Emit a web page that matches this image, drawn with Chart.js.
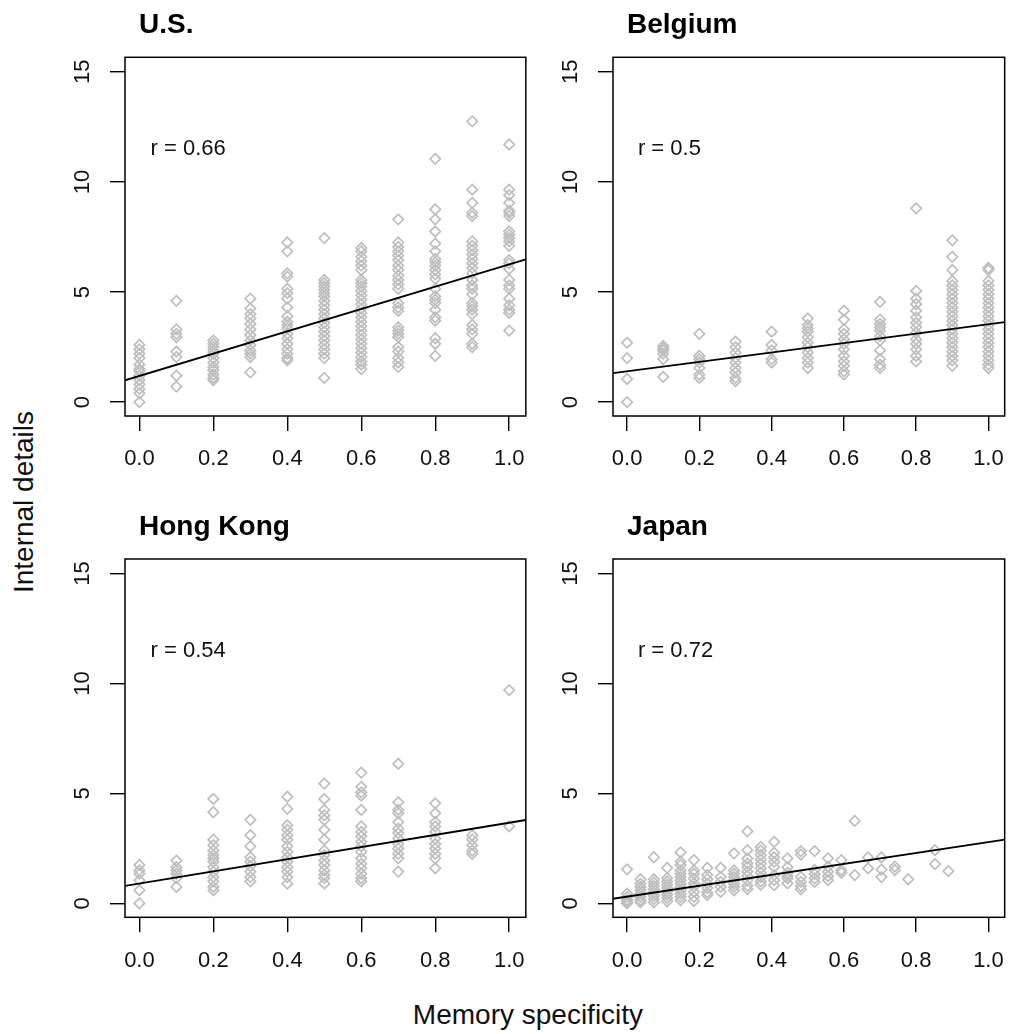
<!DOCTYPE html>
<html>
<head>
<meta charset="utf-8">
<script src="https://cdn.jsdelivr.net/npm/chart.js@4.4.1/dist/chart.umd.min.js"></script>
<style>
  body { margin: 0; background: #fff; width: 1019px; height: 1034px; position: relative; overflow: hidden; }
  canvas { position: absolute; }
  .axis-label { position: absolute; font: 28px "Liberation Sans", Arial, sans-serif; color: #111; line-height: 28px; height: 28px; text-align: center; white-space: nowrap; }
  #ylab { left: -176px; top: 488px; width: 400px; transform: rotate(-90deg); }
  #xlab { left: 228px; top: 1001px; width: 600px; }
</style>
</head>
<body>
<canvas id="us" width="500" height="490" style="left:40px;top:0px"></canvas>
<canvas id="be" width="491" height="490" style="left:528px;top:0px"></canvas>
<canvas id="hk" width="500" height="490" style="left:40px;top:500px"></canvas>
<canvas id="jp" width="491" height="490" style="left:528px;top:500px"></canvas>
<div class="axis-label" id="ylab">Internal details</div>
<div class="axis-label" id="xlab">Memory specificity</div>

<script>
const xTicks = [0, 0.2, 0.4, 0.6, 0.8, 1.0]
const yTicks = [0, 5, 10, 15]
const xRange = [-0.039, 1.045]
const yRange = [-0.63, 15.66]

const tenths = [0, 0.1, 0.2, 0.3, 0.4, 0.5, 0.6, 0.7, 0.8, 0.9, 1.0]

/** U.S. */
const usVals = [
    [2.6, 2.4, 2.2, 2.0, 1.7, 1.5, 1.4, 1.2, 1.0, 0.8, 0.6, 0.4, 0.0],
    [4.6, 3.3, 3.1, 2.95, 2.3, 2.05, 1.2, 0.7],
    [2.8, 2.65, 2.5, 2.35, 2.2, 2.0, 1.8, 1.6, 1.45, 1.25, 1.1, 1.0],
    [4.7, 4.25, 4.0, 3.8, 3.55, 3.3, 3.05, 2.8, 2.6, 2.35, 2.2, 2.05, 1.35],
    [7.25, 6.85, 5.85, 5.7, 5.15, 4.95, 4.7, 4.3, 3.9, 3.65, 3.5, 3.35, 3.1, 2.9, 2.65, 2.4, 2.2, 2.0, 1.9],
    [7.45, 5.55, 5.4, 5.25, 5.1, 4.95, 4.8, 4.6, 4.4, 4.2, 4.0, 3.8, 3.6, 3.4, 3.2, 3.0, 2.8, 2.6, 2.4, 2.2, 2.0, 1.1],
    [7.0, 6.85, 6.6, 6.4, 6.2, 6.0, 5.55, 5.4, 5.25, 5.05, 4.85, 4.65, 4.45, 4.25, 4.05, 3.85, 3.65, 3.45, 3.25, 3.05, 2.85, 2.65, 2.45, 2.25, 2.05, 1.85, 1.7, 1.5],
    [8.3, 7.25, 7.05, 6.85, 6.65, 6.45, 6.2, 6.0, 5.75, 5.55, 5.35, 5.15, 4.5, 4.3, 4.15, 3.4, 3.25, 3.1, 2.95, 2.5, 2.3, 2.0, 1.8, 1.6],
    [11.05, 8.75, 8.3, 7.75, 7.2, 6.85, 6.5, 6.35, 6.2, 6.0, 5.8, 5.6, 5.15, 4.8, 4.65, 4.5, 4.2, 3.85, 3.7, 2.9, 2.65, 2.1],
    [12.75, 9.65, 9.05, 8.6, 8.45, 7.3, 7.1, 6.9, 6.7, 6.5, 6.3, 6.1, 5.85, 5.55, 5.3, 5.15, 4.9, 4.5, 4.35, 4.2, 4.0, 3.5, 3.3, 3.1, 2.65, 2.5],
    [11.7, 9.65, 9.4, 9.05, 8.7, 8.6, 8.45, 7.75, 7.6, 7.45, 7.3, 7.1, 6.45, 6.3, 6.05, 5.55, 5.3, 5.15, 4.7, 4.4, 4.2, 4.05, 3.25]
]

/** Belgium */
const beVals = [
    [2.7, 2.0, 1.05, 0.0],
    [2.55, 2.45, 2.35, 2.2, 1.95, 1.15],
    [3.1, 2.1, 1.95, 1.8, 1.55, 1.25, 1.1],
    [2.75, 2.5, 2.25, 2.0, 1.8, 1.55, 1.35, 1.1, 0.95],
    [3.2, 2.6, 2.35, 1.95, 1.8],
    [3.8, 3.5, 3.35, 3.2, 2.95, 2.7, 2.5, 2.25, 2.0, 1.8, 1.55],
    [4.15, 3.75, 3.3, 3.1, 2.85, 2.65, 2.4, 2.1, 1.85, 1.65, 1.4, 1.25],
    [4.55, 3.75, 3.55, 3.4, 3.25, 3.0, 2.8, 2.35, 1.95, 1.7, 1.55],
    [8.8, 5.05, 4.7, 4.45, 4.15, 3.85, 3.6, 3.4, 3.15, 2.85, 2.65, 2.4, 2.1, 1.85],
    [7.35, 6.6, 6.0, 5.5, 5.3, 5.1, 4.9, 4.7, 4.5, 4.3, 4.1, 3.9, 3.7, 3.5, 3.3, 3.1, 2.9, 2.7, 2.5, 2.3, 2.1, 1.9, 1.65],
    [6.1, 6.0, 5.5, 5.3, 5.1, 4.9, 4.7, 4.5, 4.3, 4.1, 3.9, 3.7, 3.5, 3.3, 3.1, 2.9, 2.7, 2.5, 2.3, 2.1, 1.9, 1.7, 1.55]
]

/** Hong Kong */
const hkVals = [
    [1.75, 1.5, 1.35, 1.05, 0.6, 0.0],
    [1.95, 1.65, 1.5, 1.35, 1.15, 0.75],
    [4.75, 4.15, 2.9, 2.65, 2.4, 2.2, 2.05, 1.9, 1.65, 1.45, 1.2, 1.0, 0.75, 0.6],
    [3.8, 3.1, 2.6, 2.1, 1.9, 1.7, 1.45, 1.2, 1.0],
    [4.85, 4.3, 3.55, 3.35, 3.1, 2.9, 2.6, 2.35, 2.1, 1.9, 1.65, 1.45, 1.2, 0.9],
    [5.45, 4.75, 4.25, 4.0, 3.8, 3.35, 2.9, 2.4, 2.2, 1.95, 1.75, 1.5, 1.3, 1.15, 0.9],
    [5.95, 5.3, 5.05, 4.9, 4.25, 3.5, 3.25, 3.05, 2.8, 2.6, 2.35, 2.05, 1.8, 1.6, 1.35, 1.15, 1.0],
    [6.35, 4.6, 4.25, 4.1, 3.7, 3.4, 3.2, 2.95, 2.7, 2.5, 2.25, 2.05, 1.45],
    [4.55, 4.1, 3.7, 3.5, 3.25, 2.95, 2.7, 2.5, 2.25, 2.05, 1.6],
    [3.1, 2.9, 2.65, 2.4, 2.25],
    [9.7, 3.5]
]

/** Japan (finer x steps) */
const jpCols = [0, 0.037, 0.074, 0.111, 0.148, 0.185, 0.222, 0.259, 0.296, 0.333, 0.37, 0.407,
    0.444, 0.481, 0.519, 0.556, 0.593, 0.63, 0.667, 0.704, 0.741, 0.778, 0.852, 0.889]
const jpVals = [
    [1.55, 0.45, 0.3, 0.15, 0.05, 0.0],
    [1.1, 0.9, 0.75, 0.6, 0.45, 0.3, 0.15, 0.05],
    [2.1, 1.1, 0.95, 0.8, 0.65, 0.5, 0.35, 0.2, 0.05],
    [1.62, 1.15, 1.0, 0.85, 0.7, 0.55, 0.4, 0.25, 0.1],
    [2.32, 1.9, 1.75, 1.5, 1.35, 1.2, 1.05, 0.9, 0.75, 0.6, 0.45, 0.3, 0.15],
    [1.97, 1.5, 1.35, 1.13, 0.91, 0.76, 0.53, 0.3, 0.11],
    [1.62, 1.29, 1.1, 0.9, 0.7, 0.5, 0.38],
    [1.62, 1.2, 0.98, 0.76, 0.53],
    [2.28, 1.5, 1.35, 1.2, 1.05, 0.9, 0.75, 0.6],
    [3.28, 2.42, 2.04, 1.82, 1.66, 1.45, 1.25, 1.05, 0.8, 0.65],
    [2.57, 2.4, 2.2, 2.0, 1.8, 1.6, 1.4, 1.2, 1.0, 0.85],
    [2.8, 2.3, 2.1, 1.89, 1.66, 1.29, 1.06, 0.83],
    [2.05, 1.65, 1.4, 1.25, 1.13, 0.91],
    [2.38, 2.22, 1.2, 0.98, 0.79, 0.64],
    [2.38, 1.52, 1.33, 1.14, 0.98],
    [2.05, 1.67, 1.44, 1.24, 1.06],
    [1.97, 1.51, 1.39],
    [3.75, 1.29],
    [2.09, 1.59],
    [2.09, 1.54, 1.2],
    [1.67, 1.52],
    [1.1],
    [2.42, 1.79],
    [1.47]
]

const countries = ['U.S.', 'Belgium', 'Hong Kong', 'Japan']
const rValues = ['0.66', '0.5', '0.54', '0.72']
const intercepts = [1.19, 1.40, 0.91, 0.31]
const slopes = [5.07, 2.14, 2.76, 2.48]
const rPos = [0.03, 11.5]

const FONT = '"Liberation Sans", Arial, sans-serif'
Chart.defaults.font.family = FONT
Chart.defaults.color = '#111'

/** box, rotated y labels, title and r text, drawn the way R does it */
const panelText = {
    id: 'panelText',
    afterDraw(chart, args, opts) {
        const {ctx, chartArea: a, scales: {x, y}} = chart
        ctx.save()
        ctx.strokeStyle = '#000'
        ctx.lineWidth = 1.5
        ctx.strokeRect(a.left, a.top, a.right - a.left, a.bottom - a.top)

        ctx.fillStyle = '#111'
        ctx.font = `22px ${FONT}`
        ctx.textAlign = 'center'
        ctx.textBaseline = 'middle'
        yTicks.forEach(v => {
            ctx.save()
            ctx.translate(a.left - 42, y.getPixelForValue(v))
            ctx.rotate(-Math.PI / 2)
            ctx.fillText(String(v), 0, 0)
            ctx.restore()
        })

        ctx.textAlign = 'left'
        ctx.fillText(`r = ${opts.r}`, x.getPixelForValue(rPos[0]), y.getPixelForValue(rPos[1]))

        ctx.fillStyle = '#000'
        ctx.font = `bold 28px ${FONT}`
        ctx.textBaseline = 'alphabetic'
        ctx.fillText(opts.title, a.left + 14, a.top - 24)
        ctx.restore()
    }
}

function makePanel(canvasId, idx, cols, vals, pad) {
    const points = cols.flatMap((x, i) => vals[i].map(y => ({x: x, y: y})))
    const a = intercepts[idx], b = slopes[idx]
    const fit = xRange.map(x => ({x: x, y: a + b * x}))

    new Chart(document.getElementById(canvasId), {
        type: 'scatter',
        data: {
            datasets: [{
                type: 'line',
                data: fit,
                borderColor: '#000',
                borderWidth: 1.8,
                pointRadius: 0,
                fill: false
            }, {
                data: points,
                pointStyle: 'rectRot',
                pointRadius: 5.2,
                pointHoverRadius: 5.2,
                borderColor: '#bebebe',
                backgroundColor: 'rgba(0,0,0,0)',
                pointBorderWidth: 1.7
            }]
        },
        options: {
            responsive: false,
            animation: false,
            events: [],
            layout: {padding: pad},
            plugins: {
                legend: {display: false},
                tooltip: {enabled: false},
                panelText: {title: countries[idx], r: rValues[idx]}
            },
            scales: {
                x: {
                    type: 'linear',
                    min: xRange[0],
                    max: xRange[1],
                    afterBuildTicks: s => { s.ticks = xTicks.map(v => ({value: v})) },
                    afterFit: s => { s.height = 50 },
                    ticks: {
                        font: {size: 22},
                        padding: 15,
                        maxRotation: 0,
                        autoSkip: false,
                        callback: v => v.toFixed(1)
                    },
                    grid: {drawOnChartArea: false, drawTicks: true, tickLength: 15, color: '#000', lineWidth: 1.4},
                    border: {display: false}
                },
                y: {
                    type: 'linear',
                    min: yRange[0],
                    max: yRange[1],
                    afterBuildTicks: s => { s.ticks = yTicks.map(v => ({value: v})) },
                    afterFit: s => { s.width = 85 },
                    ticks: {display: false},
                    grid: {drawOnChartArea: false, drawTicks: true, tickLength: 15, color: '#000', lineWidth: 1.4},
                    border: {display: false}
                }
            }
        },
        plugins: [panelText]
    })
}

makePanel('us', 0, tenths, usVals, {left: 0, right: 12.3, top: 57.3, bottom: 24})
makePanel('be', 1, tenths, beVals, {left: 0, right: 4, top: 57.3, bottom: 24})
makePanel('hk', 2, tenths, hkVals, {left: 0, right: 12.3, top: 59, bottom: 22.7})
makePanel('jp', 3, jpCols, jpVals, {left: 0, right: 4, top: 59, bottom: 22.7})
</script>
</body>
</html>
